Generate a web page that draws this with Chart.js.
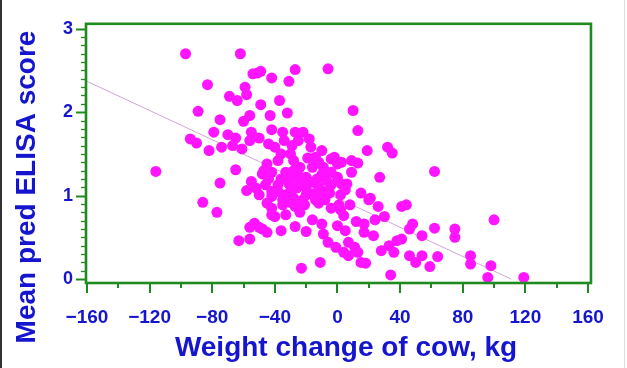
<!DOCTYPE html>
<html>
<head>
<meta charset="utf-8">
<script src="https://cdn.jsdelivr.net/npm/chart.js@4.4.1/dist/chart.umd.min.js"></script>
<style>
  html, body { margin: 0; padding: 0; background: #fff; }
  #wrap { position: relative; width: 627px; height: 368px; }
  #edgeL { position: absolute; left: 0; top: 0; width: 2px; height: 368px; background: #333; }
  #edgeR { position: absolute; left: 624px; top: 0; width: 1px; height: 368px; background: #ddd; }
</style>
</head>
<body>
<div id="wrap">
  <canvas id="scatterChart" width="627" height="368"></canvas>
  <div id="edgeL"></div>
  <div id="edgeR"></div>
</div>
<script>
// weight change of cow (kg) and mean predicted ELISA score
const weightChange = [
  -97, -62, -83, -59, -69, -64, -58, -54, -51, -49, -42, -31, -27, -6,
  -89, -75, -60, -56, -49, -37, -32, -43, -79, -94, -90, -82, -70, -65,
  -74, -67, -61, -55, -56, -116, -65, -75, -86, -77, -55, -58, -52, -56,
  -63, -56,
  -42, -35, -27, -22, -50, -44, -34, -25, -17, -10, -36, -14, -4, 0,
  -45, -38, -47, -42, -33, -24, -16, -9, -25, -20, -4, 0, -13, -7,
  -46, -38, -31, -26, -20, -12, -4, 2.5, -50, -42, -33, -28, -20, -12,
  -5, 2, -45, -35, -27, -21, -12, -4, 2, -48, -42, -42, -40,
  -30, -28, -19, -30, -10, -16, -8, -30, -24, -36, -40, -29, -18, -12, -22,
  -38, -30, -24, -35, -17, -8, -44, -28, -14,
  -42, -33, -23, -11, -36, -27, -20, -45, -50, -53, -16, -10, -9, -6,
  -1, 4, 0, -48,
  10, 13, 19, 32, 35, 27, -2, 2.5, 9, 13, 9, 6, 5, 15, 21,
  1, 8, 20, 26, 41, 44, 4, 12, 17, 24, 30, 5, 17, 23, 48, 46, 41, 38,
  54, 7, 11, 13, 7, 15, 18, 28, 33, 36, 46, 50, 54, 34,
  62, 100, 62, 75, 75, 64, 59, 85, 85, 98, 96, 119
];
const elisaScore = [
  2.70, 2.70, 2.33, 2.30, 2.19, 2.14, 2.21, 2.46, 2.47, 2.49, 2.41, 2.37, 2.51, 2.52,
  2.01, 1.91, 1.89, 1.96, 2.09, 2.14, 1.99, 1.96, 1.76, 1.68, 1.63, 1.54, 1.73, 1.69,
  1.58, 1.60, 1.56, 1.76, 1.66, 1.29, 1.31, 1.15, 0.92, 0.80, 1.17, 1.06, 1.09, 0.62,
  0.46, 0.48,
  1.79, 1.76, 1.76, 1.76, 1.69, 1.62, 1.66, 1.66, 1.58, 1.54, 1.50, 1.46, 1.44, 1.38,
  1.38, 1.42, 1.30, 1.28, 1.28, 1.34, 1.34, 1.34, 1.24, 1.22, 1.28, 1.22, 1.20, 1.18,
  1.13, 1.13, 1.14, 1.09, 1.09, 1.10, 1.13, 1.14, 1.01, 0.99, 1.01, 0.97, 1.01, 0.99,
  1.03, 1.01, 0.91, 0.89, 0.87, 0.89, 0.91, 0.85, 0.83, 1.26, 1.05, 0.85, 0.75,
  1.50, 1.42, 1.45, 1.20, 1.25, 1.02, 0.95, 0.92, 0.80, 1.20, 1.58, 1.60, 1.68, 1.40, 0.95,
  1.05, 1.05, 1.16, 0.95, 1.16, 1.05, 1.20, 1.30, 0.95,
  0.77, 0.77, 0.13, 0.20, 0.58, 0.63, 0.57, 0.56, 0.62, 0.67, 0.71, 0.66, 0.54, 0.44,
  0.38, 0.32, 0.64, 0.60,
  2.02, 1.78, 1.54, 1.58, 1.51, 1.22, 1.46, 1.40, 1.42, 1.39, 1.28, 1.14, 1.07, 1.03, 0.97,
  0.89, 0.89, 0.95, 0.87, 0.87, 0.89, 0.76, 0.69, 0.66, 0.71, 0.75, 0.58, 0.56, 0.52, 0.66, 0.60, 0.48, 0.46,
  0.52, 0.44, 0.38, 0.32, 0.28, 0.20, 0.19, 0.34, 0.40, 0.32, 0.28, 0.20, 0.28, 0.05,
  1.29, 0.71, 0.61, 0.60, 0.50, 0.27, 0.15, 0.28, 0.18, 0.16, 0.02, 0.02
];
// fitted regression line end points
const fitX = [-160, 111];
const fitY = [2.37, 0];
// axis tick labels
const xTicks = [-160, -120, -80, -40, 0, 40, 80, 120, 160];
const yTicks = [0, 1, 2, 3];

const BLUE = '#1515cf';
const GREEN = '#1f8a1f';
const FONT = '"Liberation Sans", Arial, Helvetica, sans-serif';

const points = weightChange.map((w, i) => ({ x: w, y: elisaScore[i] }));
const fitLine = fitX.map((w, i) => ({ x: w, y: fitY[i] }));

const frameAndTitles = {
  id: 'frameAndTitles',
  afterDatasetsDraw(chart) {
    const { ctx, chartArea: a, scales: { x, y } } = chart;
    ctx.save();
    ctx.strokeStyle = GREEN;
    ctx.lineWidth = 2;
    // x ticks, long every 40, short in between
    for (let v = -160; v <= 160; v += 20) {
      const px = Math.round(x.getPixelForValue(v));
      ctx.beginPath();
      ctx.moveTo(px, a.bottom);
      ctx.lineTo(px, a.bottom + (v % 40 === 0 ? 10 : 5));
      ctx.stroke();
    }
    // y ticks, long at whole numbers, short every 0.1
    for (let i = 0; i <= 30; i++) {
      const py = Math.round(y.getPixelForValue(i / 10)) + 0.5;
      ctx.lineWidth = i % 10 === 0 ? 2 : 1.3;
      ctx.beginPath();
      ctx.moveTo(a.left, py);
      ctx.lineTo(a.left - (i % 10 === 0 ? 10 : 5), py);
      ctx.stroke();
    }
    ctx.lineWidth = 2.6;
    ctx.strokeRect(a.left, a.top, a.right - a.left, a.bottom - a.top);

    ctx.fillStyle = BLUE;
    ctx.font = 'bold 28px ' + FONT;
    ctx.textAlign = 'center';
    ctx.textBaseline = 'alphabetic';
    ctx.fillText('Weight change of cow, kg', 346, 356);
    ctx.translate(35, 187);
    ctx.rotate(-Math.PI / 2);
    ctx.fillText('Mean pred ELISA score', 0, 0);
    ctx.restore();
  }
};

new Chart(document.getElementById('scatterChart'), {
  type: 'scatter',
  data: {
    datasets: [{
      data: points,
      backgroundColor: '#ff14ff',
      borderWidth: 0,
      pointRadius: 5.5,
      order: 1
    }, {
      type: 'line',
      data: fitLine,
      borderColor: '#cfa6d2',
      borderWidth: 1,
      pointRadius: 0,
      fill: false,
      order: 2
    }]
  },
  options: {
    responsive: false,
    animation: false,
    events: [],
    layout: { padding: { top: 19, right: 29, left: 0, bottom: 0 } },
    plugins: {
      legend: { display: false },
      tooltip: { enabled: false }
    },
    scales: {
      x: {
        type: 'linear',
        min: -160.6,
        max: 161.9,
        afterFit: (s) => { s.height = 85; },
        afterBuildTicks: (s) => { s.ticks = xTicks.map(v => ({ value: v })); },
        grid: { display: false, drawTicks: false },
        border: { display: false },
        ticks: {
          autoSkip: false,
          maxRotation: 0,
          padding: 23,
          color: BLUE,
          font: { family: FONT, size: 19, weight: 'bold' },
          callback: (v) => v < 0 ? '\u2212' + Math.abs(v) : String(v)
        }
      },
      y: {
        type: 'linear',
        min: -0.047,
        max: 3.059,
        afterFit: (s) => { s.width = 86; },
        afterBuildTicks: (s) => { s.ticks = yTicks.map(v => ({ value: v })); },
        grid: { display: false, drawTicks: false },
        border: { display: false },
        ticks: {
          autoSkip: false,
          padding: 13,
          color: BLUE,
          font: { family: FONT, size: 18, weight: 'bold' },
          callback: (v) => String(v)
        }
      }
    }
  },
  plugins: [frameAndTitles]
});
</script>
</body>
</html>
